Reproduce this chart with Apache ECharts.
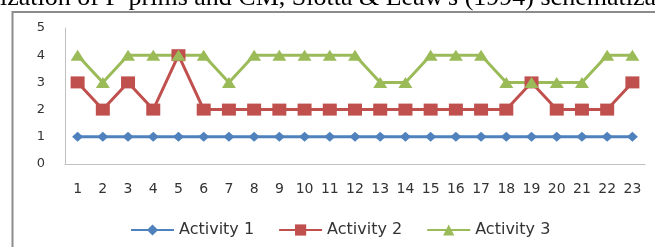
<!DOCTYPE html>
<html><head><meta charset="utf-8">
<script src="https://cdn.jsdelivr.net/npm/echarts@6/dist/echarts.min.js"></script>
<style>html,body{margin:0;padding:0;background:#fff}#c{width:655px;height:247px}</style>
</head><body><div id="c"></div>
<script>
const categories = ['1','2','3','4','5','6','7','8','9','10','11','12','13','14','15','16','17','18','19','20','21','22','23'];
const activity1 = [1,1,1,1,1,1,1,1,1,1,1,1,1,1,1,1,1,1,1,1,1,1,1];
const activity2 = [3,2,3,2,4,2,2,2,2,2,2,2,2,2,2,2,2,2,3,2,2,2,3];
const activity3 = [4,3,4,4,4,4,3,4,4,4,4,4,3,3,4,4,4,3,3,3,3,4,4];
const yTicks = [0,1,2,3,4,5];
const captionText = "ization of P-prims and CM, Slotta & Leaw's (1994) schematiza";

const chart = echarts.init(document.getElementById('c'));
const font = 'DejaVu Sans';
chart.setOption({
  animation: false,
  backgroundColor: '#fff',
  graphic: [
    {type:'text', x: 0, y: -2, style:{text: captionText, font: '26px "Liberation Serif"', fill:'#000', verticalAlign:'middle', align:'left'}},
    {type:'polyline', shape:{points:[[12.5,260],[12.5,12],[670,12]]}, style:{stroke:'#8c8c8c', lineWidth:2, fill:null}}
  ],
  grid: {left: 65, right: 10, top: 28, bottom: 83, containLabel: false},
  xAxis: {
    type: 'category', data: categories, boundaryGap: true,
    axisLine: {lineStyle: {color: '#c0c0c0', width: 1}},
    axisTick: {show: false},
    axisLabel: {color: '#333', fontFamily: font, fontSize: 14, margin: 18, interval: 0}
  },
  yAxis: {
    type: 'value', min: yTicks[0], max: yTicks[yTicks.length-1], interval: 1,
    axisLine: {show: true, lineStyle: {color: '#c0c0c0', width: 1}},
    axisTick: {show: false},
    splitLine: {show: false},
    axisLabel: {color: '#333', fontFamily: font, fontSize: 13, margin: 20}
  },
  legend: {
    top: 217, left: 125, itemGap: 24, itemWidth: 43, itemHeight: 14,
    textStyle: {color: '#333', fontFamily: font, fontSize: 16},
    data: ['Activity 1','Activity 2','Activity 3']
  },
  series: [
    {name:'Activity 1', type:'line', data: activity1, symbol:'diamond', symbolSize: [11,10],
      lineStyle:{color:'#4F81BD', width:3}, itemStyle:{color:'#4F81BD', borderWidth:0}},
    {name:'Activity 2', type:'line', data: activity2, symbol:'rect', symbolSize: [14,12],
      lineStyle:{color:'#C0504D', width:3}, itemStyle:{color:'#C0504D', borderWidth:0}},
    {name:'Activity 3', type:'line', data: activity3, symbol:'triangle', symbolSize: [14,11],
      lineStyle:{color:'#9BBB59', width:3}, itemStyle:{color:'#9BBB59', borderWidth:0}}
  ]
});
</script></body></html>
